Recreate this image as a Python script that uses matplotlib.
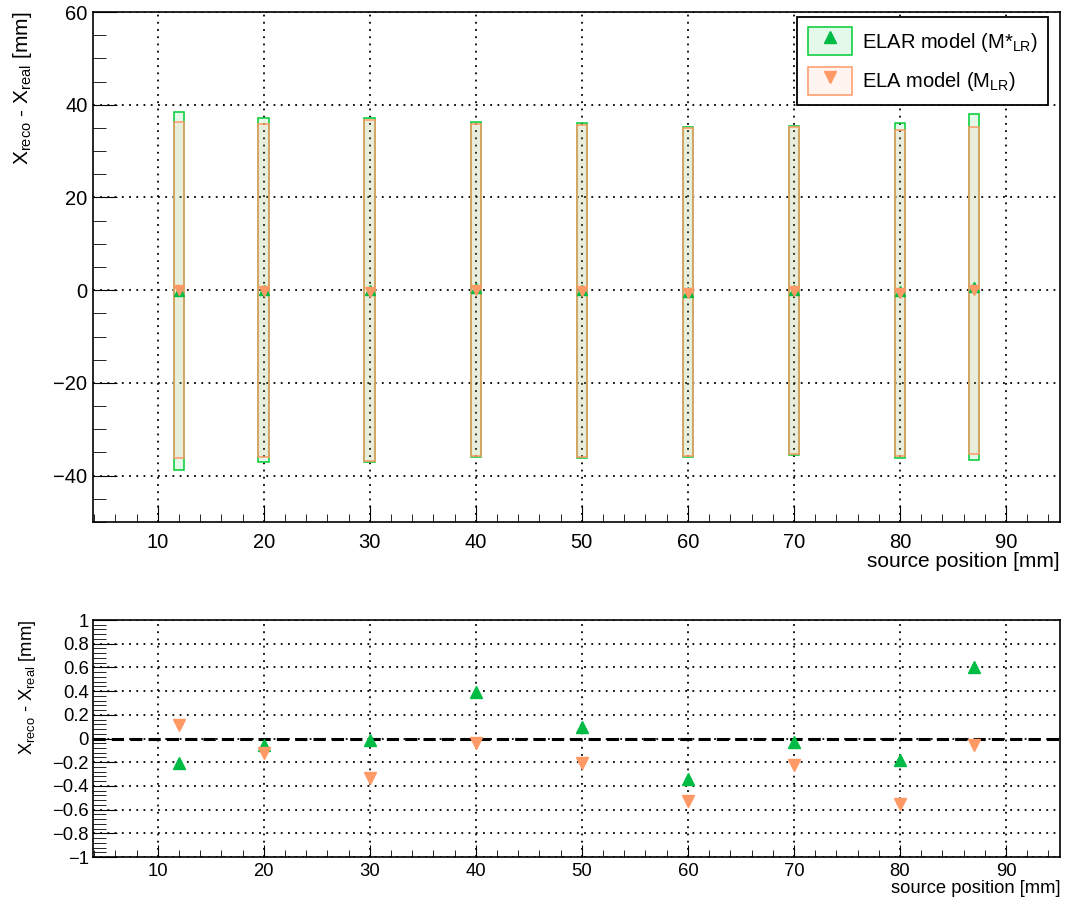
import numpy as np
import matplotlib
matplotlib.use('Agg')
import matplotlib.pyplot as plt
from matplotlib.patches import Rectangle, Patch
from matplotlib.lines import Line2D
from matplotlib.ticker import MultipleLocator

plt.rcParams['font.family'] = ['Liberation Sans', 'DejaVu Sans']
plt.rcParams['mathtext.fontset'] = 'custom'
plt.rcParams['mathtext.rm'] = 'Liberation Sans'
plt.rcParams['mathtext.it'] = 'Liberation Sans:italic'

# source positions [mm]
positions = [12, 20, 30, 40, 50, 60, 70, 80, 87]
# mean residuals [mm]
elar_mean = [-0.21, -0.055, -0.01, 0.39, 0.095, -0.345, -0.03, -0.18, 0.6]
ela_mean = [0.11, -0.12, -0.335, -0.035, -0.21, -0.525, -0.22, -0.555, -0.055]
# spread boxes [mm]
elar_hi = [38.5, 37.2, 37.1, 36.2, 36.0, 35.1, 35.4, 36.0, 37.9]
elar_lo = [-38.8, -37.1, -37.1, -36.0, -36.2, -36.0, -35.6, -36.3, -36.6]
ela_hi = [36.3, 35.8, 36.8, 35.9, 35.7, 34.9, 35.1, 34.5, 35.2]
ela_lo = [-36.1, -35.9, -36.9, -35.8, -35.9, -35.7, -35.4, -35.7, -35.3]

green = '#00cc33'
green_mk = '#00bb44'
orange = '#ff9966'
green_fill = (0.0, 0.8, 0.2, 0.1)
orange_fill = (1.0, 0.6, 0.4, 0.1)

fig = plt.figure(figsize=(10.67, 9.05), dpi=100)
ax1 = fig.add_axes([0.0872, 0.4232, 0.9063, 0.5635])
ax2 = fig.add_axes([0.0872, 0.053, 0.9063, 0.2619])

grid_style = dict(color='black', linestyle=(0, (1, 3)), linewidth=1.3)

# ---- top panel ----
for i in range(len(positions)):
    x = positions[i]
    ax1.add_patch(Rectangle((x - 0.5, elar_lo[i]), 1.0, elar_hi[i] - elar_lo[i],
                            facecolor=green_fill, edgecolor=green, lw=1.1, zorder=3))
    ax1.add_patch(Rectangle((x - 0.5, ela_lo[i]), 1.0, ela_hi[i] - ela_lo[i],
                            facecolor=orange_fill, edgecolor=orange, lw=1.1, zorder=3))
ax1.plot(positions, elar_mean, ls='', marker='^', color=green_mk, ms=7, zorder=4)
ax1.plot(positions, ela_mean, ls='', marker='v', color=orange, ms=7, zorder=5)

ax1.set_xlim(3.9, 95.1)
ax1.set_ylim(-50, 60)
ax1.xaxis.set_major_locator(MultipleLocator(10))
ax1.xaxis.set_minor_locator(MultipleLocator(2))
ax1.yaxis.set_major_locator(MultipleLocator(20))
ax1.yaxis.set_minor_locator(MultipleLocator(5))
ax1.grid(True, which='major', **grid_style)
ax1.tick_params(axis='both', which='both', direction='in', top=False, right=False, labelsize=14.5)
ax1.tick_params(axis='y', which='major', length=17, pad=4)
ax1.tick_params(axis='y', which='minor', length=9)
ax1.tick_params(axis='x', which='major', length=12, pad=8)
ax1.tick_params(axis='x', which='minor', length=6)
ax1.set_xlabel('source position [mm]', fontsize=15, loc='right', labelpad=0)
ax1.set_ylabel(r'X$_{\mathregular{reco}}$ - X$_{\mathregular{real}}$ [mm]', fontsize=15, loc='top', labelpad=14)

h_elar = (Patch(facecolor=green_fill, edgecolor=green, lw=1.1),
          Line2D([], [], ls='', marker='^', color=green_mk, ms=8))
h_ela = (Patch(facecolor=orange_fill, edgecolor=orange, lw=1.1),
         Line2D([], [], ls='', marker='v', color=orange, ms=8))
leg = ax1.legend([h_elar, h_ela],
                 [r'ELAR model (M*$_{\mathregular{LR}}$)', r'ELA model (M$_{\mathregular{LR}}$)'],
                 loc='upper right', bbox_to_anchor=(1048 / 1067, 1 - 17 / 905),
                 bbox_transform=fig.transFigure, borderaxespad=0, fontsize=14.5,
                 fancybox=False, framealpha=1, edgecolor='black',
                 handlelength=2.2, handleheight=1.75, handletextpad=0.5,
                 labelspacing=0.6, borderpad=0.5)
leg.get_frame().set_linewidth(1.3)

# ---- bottom panel ----
ax2.axhline(0, color='black', ls=(0, (4, 2)), lw=2.2, zorder=2)
ax2.plot(positions, elar_mean, ls='', marker='^', color=green_mk, ms=8.5, zorder=4)
ax2.plot(positions, ela_mean, ls='', marker='v', color=orange, ms=8.5, zorder=4)
ax2.set_xlim(3.9, 95.1)
ax2.set_ylim(-1, 1)
ax2.xaxis.set_major_locator(MultipleLocator(10))
ax2.xaxis.set_minor_locator(MultipleLocator(2))
ax2.yaxis.set_major_locator(MultipleLocator(0.2))
ax2.yaxis.set_minor_locator(MultipleLocator(0.04))
ax2.yaxis.set_major_formatter(matplotlib.ticker.FuncFormatter(
    lambda v, p: '0' if abs(v) < 1e-9 else ('%g' % round(v, 1)).replace('-', '\u2212')))
ax2.grid(True, which='major', **grid_style)
ax2.tick_params(axis='both', which='both', direction='in', top=False, right=False, labelsize=13.3)
ax2.tick_params(axis='y', which='major', length=17, pad=3)
ax2.tick_params(axis='y', which='minor', length=9)
ax2.tick_params(axis='x', which='major', length=9, pad=4)
ax2.tick_params(axis='x', which='minor', length=5)
ax2.set_xlabel('source position [mm]', fontsize=13.2, loc='right', labelpad=0)
ax2.set_ylabel(r'X$_{\mathregular{reco}}$ - X$_{\mathregular{real}}$ [mm]', fontsize=13.2, loc='top', labelpad=10)

for ax in (ax1, ax2):
    for s in ax.spines.values():
        s.set_linewidth(1.2)

fig.savefig('out.png', dpi=100)
